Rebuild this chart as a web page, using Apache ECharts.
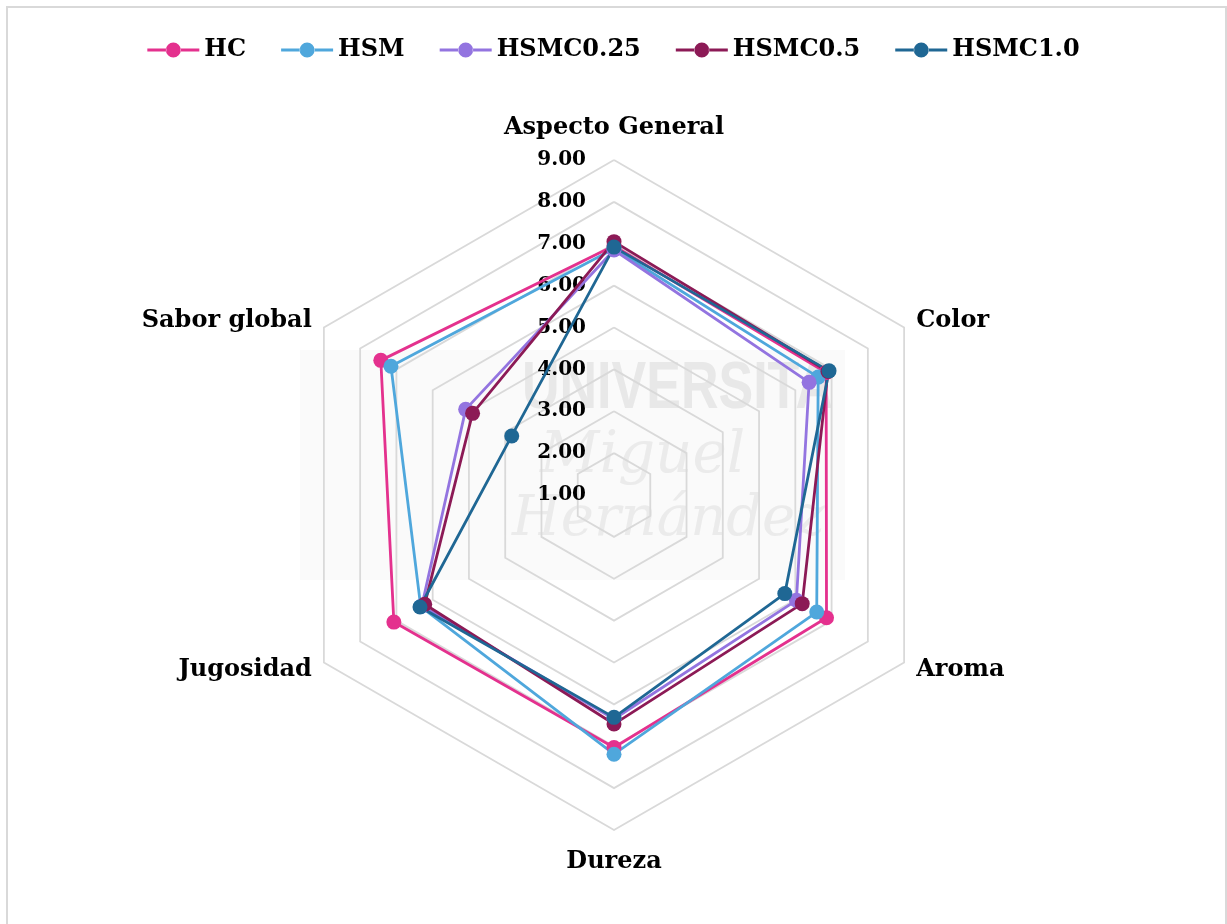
<!DOCTYPE html>
<html>
<head>
<meta charset="utf-8">
<script src="https://cdn.jsdelivr.net/npm/echarts@6/dist/echarts.min.js"></script>
<style>
  html, body { margin: 0; padding: 0; background: #ffffff; }
  #chart { width: 1227px; height: 924px; }
</style>
</head>
<body>
<div id="chart"></div>
<script>
// Sensory attributes, read clockwise from the top
const attributes = ['Aspecto General', 'Color', 'Aroma', 'Dureza', 'Jugosidad', 'Sabor global'];

// Mean panel scores per formulation, in the same order as the attributes
const HC        = [6.95, 6.85, 6.86, 7.03, 7.07, 7.43];
const HSM       = [6.88, 6.63, 6.59, 7.19, 6.33, 7.15];
const HSMC025   = [6.85, 6.38, 6.03, 6.35, 6.30, 5.09];
const HSMC05    = [7.05, 6.90, 6.19, 6.47, 6.22, 4.90];
const HSMC10    = [6.92, 6.93, 5.71, 6.31, 6.35, 3.82];

const seriesNames = ['HC', 'HSM', 'HSMC0.25', 'HSMC0.5', 'HSMC1.0'];
const seriesValues = [HC, HSM, HSMC025, HSMC05, HSMC10];
const seriesColors = ['#E4318E', '#4FA7DC', '#9374E0', '#8C1A56', '#1F6794'];

// Scale of the score axis
const scaleMin = 1;
const scaleMax = 9;
const scaleStep = 1;

const serif = '"DejaVu Serif", "Liberation Serif", serif';

// ECharts lays radar axes out counter-clockwise; walk the attributes
// in reverse (keeping the first on top) so they read clockwise.
const n = attributes.length;
const axisOrder = attributes.map(function (_, k) { return k === 0 ? 0 : n - k; });

// Legend icon: a short line with a round marker in the middle (52 x 15 box)
const legendIcon = 'path://M0,5.9H19V9.1H0Z M33,5.9H52V9.1H33Z M18.5,7.5A7.5,7.5 0 1,0 33.5,7.5A7.5,7.5 0 1,0 18.5,7.5Z';

const chart = echarts.init(document.getElementById('chart'), null, { renderer: 'canvas' });

const indicator = axisOrder.map(function (k) {
  const ind = { name: attributes[k], min: scaleMin, max: scaleMax };
  // vertical axes get a little more room for their names
  ind.nameGap = (k === 0 || k === 3) ? 20 : 14;
  if (k === 0) {
    ind.axisLabel = {
      show: true,
      margin: 28,
      color: '#000000',
      fontFamily: serif,
      fontWeight: 'bold',
      fontSize: 20,
      formatter: function (v) { return Number(v).toFixed(2); }
    };
  }
  return ind;
});

const option = {
  animation: false,
  backgroundColor: '#ffffff',
  color: seriesColors,
  graphic: [
    {
      type: 'rect', z: -20, silent: true,
      shape: { x: 7, y: 7, width: 1219, height: 940 },
      style: { fill: 'none', stroke: '#D9D9D9', lineWidth: 2 }
    },
    {
      type: 'rect', z: -19, silent: true,
      shape: { x: 300, y: 350, width: 545, height: 230 },
      style: { fill: '#FAFAFA' }
    },
    {
      type: 'text', z: -18, silent: true, x: 522, y: 356, scaleY: 1.3,
      style: { text: 'UNIVERSITA', fill: '#E8E8E8', font: 'bold 52px "Liberation Sans", sans-serif' }
    },
    {
      type: 'text', z: -18, silent: true, x: 540, y: 428,
      style: { text: 'Miguel', fill: '#EBEBEB', font: 'italic 58px "DejaVu Serif", serif' }
    },
    {
      type: 'text', z: -18, silent: true, x: 512, y: 492,
      style: { text: 'Hernández', fill: '#EBEBEB', font: 'italic 56px "DejaVu Serif", serif' }
    }
  ],
  legend: {
    top: 33,
    left: 'center',
    icon: legendIcon,
    itemWidth: 52,
    itemHeight: 15,
    itemGap: 35,
    data: seriesNames,
    textStyle: {
      color: '#000000',
      fontFamily: serif,
      fontWeight: 'bold',
      fontSize: 24
    }
  },
  radar: {
    center: [614, 495],
    radius: 335,
    startAngle: 90,
    splitNumber: (scaleMax - scaleMin) / scaleStep,
    shape: 'polygon',
    nameGap: 14,
    axisName: {
      color: '#000000',
      fontFamily: serif,
      fontWeight: 'bold',
      fontSize: 24
    },
    axisLine: { show: false },
    axisTick: { show: false },
    axisLabel: { show: false },
    splitArea: { show: false },
    splitLine: { lineStyle: { color: '#D9D9D9', width: 1.8 } },
    indicator: indicator
  },
  series: seriesNames.map(function (name, i) {
    const vals = seriesValues[i];
    return {
      type: 'radar',
      name: name,
      symbol: 'circle',
      symbolSize: 15,
      lineStyle: { width: 2.8, color: seriesColors[i] },
      itemStyle: { color: seriesColors[i] },
      data: [{ name: name, value: axisOrder.map(function (k) { return vals[k]; }) }]
    };
  })
};

chart.setOption(option);
</script>
</body>
</html>
